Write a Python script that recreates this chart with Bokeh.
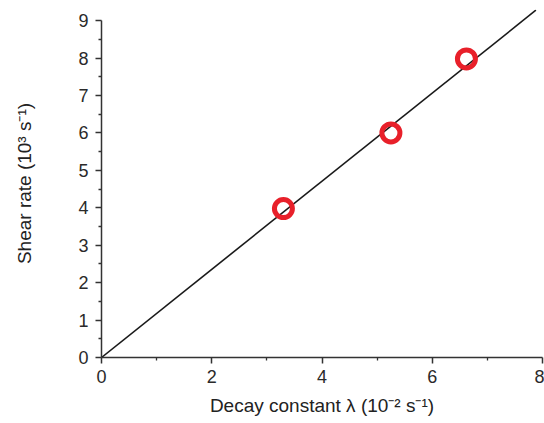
from bokeh.plotting import figure
from bokeh.models import FixedTicker, Range1d
from bokeh.embed import file_html
from bokeh.resources import INLINE

# data
decay_x = [3.30, 5.25, 6.62]
shear_y = [3.98, 6.0, 7.98]
fit_x = [0.0, 7.88]
fit_y = [0.0, 9.28]
x_ticks = [0, 2, 4, 6, 8]
x_minor = [1, 3, 5, 7]
y_ticks = [0, 1, 2, 3, 4, 5, 6, 7, 8, 9]
y_minor = [0.5, 1.5, 2.5, 3.5, 4.5, 5.5, 6.5, 7.5, 8.5]

p = figure(width=544, height=423, output_backend="svg", toolbar_location=None,
           x_range=Range1d(0, 8), y_range=Range1d(0, 9.3),
           min_border_left=101, min_border_right=2, min_border_top=9, min_border_bottom=66)
p.outline_line_color = None
p.grid.visible = False
p.background_fill_color = "white"
p.border_fill_color = "white"

p.line(fit_x, fit_y, line_color="#1a1a1a", line_width=1.6)
p.scatter(decay_x, shear_y, size=18, fill_color=None, line_color="#e8202a", line_width=5)

font = "Liberation Sans"
for ax in (p.xaxis[0], p.yaxis[0]):
    ax.axis_line_color = "#333333"
    ax.axis_line_width = 1.5
    ax.major_tick_line_color = "#333333"
    ax.major_tick_line_width = 1.5
    ax.minor_tick_line_color = "#333333"
    ax.minor_tick_line_width = 1.3
    ax.major_tick_out = 6
    ax.major_tick_in = 0
    ax.minor_tick_out = 3
    ax.minor_tick_in = 0
    ax.major_label_text_font = font
    ax.major_label_text_font_size = "18px"
    ax.major_label_text_color = "#2a2a2a"
    ax.axis_label_text_font = font
    ax.axis_label_text_font_size = "19px"
    ax.axis_label_text_font_style = "normal"
    ax.axis_label_text_color = "#222222"

p.xaxis.ticker = FixedTicker(ticks=x_ticks, minor_ticks=x_minor)
p.yaxis.ticker = FixedTicker(ticks=y_ticks, minor_ticks=y_minor)
p.yaxis.bounds = (0, 9)
p.xaxis.axis_label = "Decay constant λ (10⁻² s⁻¹)"
p.yaxis.axis_label = "Shear rate (10³ s⁻¹)"
p.xaxis.major_label_standoff = 6
p.yaxis.major_label_standoff = 7
p.xaxis.axis_label_standoff = 9
p.yaxis.axis_label_standoff = 40

open("out.html", "w").write(file_html(p, INLINE))
